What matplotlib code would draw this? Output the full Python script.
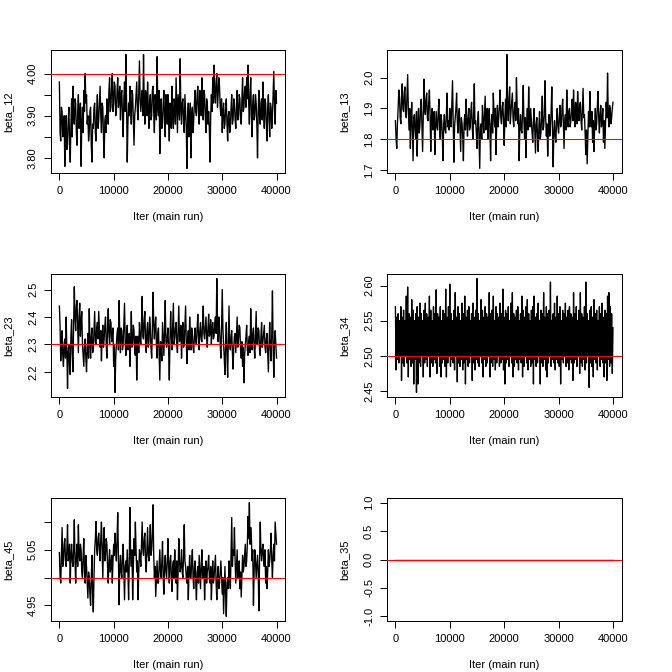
import numpy as np
import matplotlib
matplotlib.use("Agg")
import matplotlib.pyplot as plt

plt.rcParams['font.family'] = ['Liberation Sans', 'DejaVu Sans']

# iteration grid of the main run (thinned trace): swings read every 250 iters,
# plus the counter-swing read half-way between them
iters = np.arange(0, 40001, 250)

beta_12 = [
    3.98, 3.84, 3.91, 3.87, 3.78, 3.90, 3.83, 3.92, 3.79, 3.94,
    3.97, 3.88, 3.93, 3.83, 3.95, 3.89, 3.78, 3.92, 3.96, 4.00,
    3.95, 3.90, 3.86, 3.92, 3.79, 3.87, 3.93, 3.84, 3.95, 3.89,
    3.97, 3.86, 3.92, 3.80, 3.90, 3.94, 3.88, 3.99, 3.92, 4.00,
    3.93, 3.97, 3.91, 3.99, 3.94, 3.89, 3.96, 3.85, 3.98, 4.045,
    3.79, 3.93, 3.97, 3.88, 3.95, 3.83, 3.92, 3.98, 3.89, 4.03,
    3.91, 3.96, 4.045, 3.88, 3.94, 3.98, 3.87, 3.95, 3.90, 3.97,
    3.86, 3.93, 4.04, 3.90, 3.81, 3.94, 3.88, 3.96, 3.85, 3.92,
    3.95, 3.84, 3.91, 3.97, 3.87, 3.93, 3.99, 3.86, 3.92, 4.035,
    3.88, 3.94, 3.86, 3.91, 3.775, 3.93, 3.87, 3.80, 3.92, 3.89,
    3.96, 3.90, 3.97, 3.88, 3.94, 3.99, 3.89, 3.95, 3.86, 3.93,
    3.91, 3.79, 3.95, 3.99, 4.02, 3.93, 4.00, 3.95, 3.97, 3.90,
    3.86, 3.93, 3.88, 3.94, 3.84, 3.91, 3.87, 3.95, 3.89, 3.93,
    3.87, 3.96, 3.90, 3.94, 3.88, 3.99, 3.92, 3.97, 3.99, 4.02,
    3.88, 3.99, 3.85, 3.95, 3.90, 3.93, 3.80, 3.96, 3.88, 3.94,
    3.98, 3.87, 3.93, 3.84, 3.95, 3.85, 3.92, 3.90, 4.005, 3.88,
    3.93,
]
beta_12_mid = [
    3.86, 3.92, 3.85, 3.90, 3.86, 3.82, 3.89, 3.84, 3.88, 3.85,
    3.89, 3.94, 3.86, 3.91, 3.87, 3.93, 3.88, 3.86, 3.91, 3.93,
    3.88, 3.84, 3.91, 3.83, 3.88, 3.92, 3.86, 3.91, 3.87, 3.93,
    3.90, 3.93, 3.85, 3.89, 3.86, 3.90, 3.96, 3.91, 3.97, 3.91,
    3.98, 3.90, 3.96, 3.92, 3.97, 3.95, 3.90, 3.94, 3.91, 3.93,
    3.88, 3.90, 3.92, 3.96, 3.89, 3.90, 3.95, 3.91, 3.96, 3.94,
    3.94, 3.90, 3.93, 3.96, 3.90, 3.92, 3.93, 3.89, 3.96, 3.91,
    3.95, 3.89, 3.92, 3.96, 3.89, 3.87, 3.93, 3.89, 3.95, 3.88,
    3.89, 3.93, 3.87, 3.90, 3.94, 3.88, 3.92, 3.95, 3.89, 3.92,
    3.93, 3.89, 3.95, 3.87, 3.90, 3.85, 3.93, 3.90, 3.86, 3.93,
    3.91, 3.95, 3.91, 3.96, 3.90, 3.92, 3.96, 3.90, 3.94, 3.88,
    3.87, 3.90, 3.91, 3.93, 3.95, 3.98, 3.92, 3.99, 3.92, 3.94,
    3.91, 3.87, 3.92, 3.88, 3.90, 3.86, 3.92, 3.88, 3.94, 3.89,
    3.92, 3.89, 3.95, 3.89, 3.94, 3.91, 3.96, 3.92, 3.94, 3.93,
    3.95, 3.90, 3.93, 3.89, 3.95, 3.88, 3.91, 3.90, 3.93, 3.89,
    3.91, 3.94, 3.88, 3.92, 3.89, 3.93, 3.87, 3.95, 3.92, 3.96,
]

beta_13 = [
    1.86, 1.77, 1.90, 1.94, 1.85, 1.98, 1.89, 1.97, 1.87, 2.01,
    1.83, 1.77, 1.92, 1.73, 1.88, 1.80, 1.745, 1.90, 1.84, 1.93,
    1.76, 1.995, 1.88, 1.95, 1.86, 1.96, 1.76, 1.90, 1.85, 1.75,
    1.89, 1.83, 1.93, 1.80, 1.86, 1.73, 1.88, 1.82, 1.95, 1.86,
    1.90, 1.84, 1.99, 1.725, 1.87, 1.95, 1.82, 1.90, 1.76, 1.85,
    1.73, 1.88, 1.93, 1.81, 1.90, 1.84, 1.92, 1.80, 1.98, 1.86,
    1.77, 1.89, 1.705, 1.85, 1.91, 1.82, 1.94, 1.86, 1.80, 1.90,
    1.73, 1.88, 1.95, 1.84, 1.75, 1.91, 1.87, 1.96, 1.85, 1.92,
    1.78, 1.93, 2.075, 1.86, 1.97, 1.89, 1.95, 1.84, 1.92, 2.00,
    1.85, 1.73, 1.88, 1.82, 1.975, 1.80, 1.74, 1.90, 1.97, 1.84,
    1.86, 1.79, 1.90, 1.755, 1.87, 1.76, 1.89, 1.82, 1.94, 1.84,
    1.99, 1.81, 1.745, 1.88, 1.84, 1.97, 1.71, 1.86, 1.79, 1.90,
    1.82, 1.91, 1.85, 1.93, 1.77, 1.88, 1.96, 1.84, 1.90, 1.86,
    1.93, 1.96, 1.84, 1.90, 1.955, 1.86, 1.92, 1.83, 1.965, 1.88,
    1.75, 1.72, 1.89, 1.955, 1.84, 1.79, 1.76, 1.90, 1.85, 1.955,
    1.82, 1.91, 1.86, 1.79, 1.77, 1.92, 2.015, 1.84, 1.90, 1.87,
    1.92,
]
beta_13_mid = [
    1.80, 1.85, 1.96, 1.87, 1.93, 1.90, 1.95, 1.88, 1.94, 1.90,
    1.90, 1.86, 1.82, 1.87, 1.83, 1.89, 1.85, 1.82, 1.90, 1.84,
    1.88, 1.90, 1.93, 1.87, 1.92, 1.88, 1.87, 1.83, 1.89, 1.84,
    1.84, 1.89, 1.83, 1.88, 1.81, 1.85, 1.83, 1.88, 1.84, 1.83,
    1.85, 1.91, 1.86, 1.84, 1.90, 1.86, 1.88, 1.83, 1.87, 1.81,
    1.85, 1.83, 1.86, 1.87, 1.83, 1.89, 1.84, 1.88, 1.85, 1.82,
    1.86, 1.80, 1.84, 1.80, 1.86, 1.88, 1.83, 1.90, 1.86, 1.83,
    1.85, 1.82, 1.88, 1.90, 1.86, 1.84, 1.91, 1.87, 1.90, 1.86,
    1.87, 1.84, 1.90, 1.93, 1.85, 1.92, 1.87, 1.90, 1.86, 1.91,
    1.90, 1.84, 1.83, 1.89, 1.86, 1.87, 1.85, 1.83, 1.87, 1.90,
    1.82, 1.86, 1.83, 1.85, 1.81, 1.84, 1.80, 1.87, 1.83, 1.88,
    1.87, 1.85, 1.83, 1.81, 1.89, 1.84, 1.82, 1.81, 1.86, 1.84,
    1.87, 1.84, 1.90, 1.85, 1.86, 1.83, 1.88, 1.89, 1.84, 1.89,
    1.86, 1.88, 1.92, 1.85, 1.89, 1.91, 1.86, 1.90, 1.87, 1.82,
    1.83, 1.81, 1.84, 1.87, 1.89, 1.86, 1.84, 1.83, 1.91, 1.87,
    1.88, 1.84, 1.90, 1.86, 1.85, 1.87, 1.88, 1.91, 1.85, 1.90,
]

beta_23 = [
    2.44, 2.24, 2.35, 2.22, 2.32, 2.40, 2.14, 2.30, 2.19, 2.39,
    2.20, 2.51, 2.35, 2.46, 2.27, 2.45, 2.38, 2.30, 2.22, 2.32,
    2.20, 2.34, 2.43, 2.25, 2.36, 2.28, 2.42, 2.30, 2.38, 2.42,
    2.29, 2.24, 2.37, 2.32, 2.40, 2.25, 2.43, 2.30, 2.38, 2.33,
    2.22, 2.125, 2.30, 2.36, 2.46, 2.27, 2.35, 2.30, 2.45, 2.26,
    2.37, 2.29, 2.22, 2.42, 2.30, 2.35, 2.26, 2.17, 2.33, 2.38,
    2.30, 2.475, 2.32, 2.42, 2.27, 2.38, 2.31, 2.36, 2.25, 2.49,
    2.32, 2.40, 2.25, 2.36, 2.17, 2.30, 2.38, 2.26, 2.46, 2.29,
    2.36, 2.17, 2.42, 2.28, 2.45, 2.32, 2.38, 2.27, 2.44, 2.33,
    2.25, 2.38, 2.30, 2.44, 2.23, 2.35, 2.40, 2.28, 2.34, 2.27,
    2.36, 2.30, 2.41, 2.28, 2.38, 2.31, 2.44, 2.32, 2.40, 2.29,
    2.41, 2.34, 2.30, 2.38, 2.33, 2.40, 2.54, 2.31, 2.36, 2.25,
    2.50, 2.30, 2.19, 2.38, 2.18, 2.44, 2.28, 2.35, 2.21, 2.33,
    2.27, 2.40, 2.32, 2.36, 2.25, 2.22, 2.16, 2.30, 2.37, 2.26,
    2.33, 2.43, 2.28, 2.36, 2.25, 2.42, 2.30, 2.35, 2.26, 2.38,
    2.31, 2.37, 2.27, 2.34, 2.20, 2.38, 2.24, 2.495, 2.18, 2.35,
    2.25,
]
beta_23_mid = [
    2.37, 2.31, 2.26, 2.30, 2.25, 2.28, 2.27, 2.22, 2.33, 2.27,
    2.38, 2.40, 2.44, 2.36, 2.40, 2.33, 2.42, 2.26, 2.30, 2.25,
    2.29, 2.25, 2.31, 2.33, 2.27, 2.35, 2.31, 2.36, 2.32, 2.35,
    2.35, 2.33, 2.29, 2.37, 2.30, 2.36, 2.34, 2.39, 2.31, 2.36,
    2.30, 2.25, 2.34, 2.28, 2.33, 2.36, 2.28, 2.37, 2.31, 2.32,
    2.28, 2.34, 2.31, 2.29, 2.37, 2.27, 2.33, 2.29, 2.27, 2.32,
    2.37, 2.33, 2.39, 2.31, 2.35, 2.29, 2.40, 2.29, 2.35, 2.38,
    2.37, 2.30, 2.34, 2.27, 2.31, 2.24, 2.32, 2.35, 2.31, 2.33,
    2.28, 2.32, 2.33, 2.37, 2.30, 2.36, 2.30, 2.36, 2.31, 2.37,
    2.33, 2.29, 2.37, 2.31, 2.32, 2.28, 2.33, 2.36, 2.29, 2.33,
    2.31, 2.36, 2.33, 2.35, 2.32, 2.37, 2.34, 2.36, 2.33, 2.36,
    2.33, 2.39, 2.36, 2.32, 2.38, 2.34, 2.37, 2.40, 2.30, 2.36,
    2.36, 2.25, 2.31, 2.26, 2.32, 2.30, 2.33, 2.27, 2.29, 2.34,
    2.34, 2.29, 2.37, 2.28, 2.31, 2.29, 2.26, 2.33, 2.28, 2.31,
    2.27, 2.32, 2.34, 2.29, 2.33, 2.30, 2.36, 2.28, 2.33, 2.29,
    2.34, 2.29, 2.32, 2.27, 2.30, 2.29, 2.34, 2.30, 2.31, 2.30,
]

# beta_34 mixes very fast: upper and lower swings read separately
beta_34 = [
    2.57, 2.555, 2.56, 2.55, 2.57, 2.555, 2.565, 2.55, 2.585, 2.598,
    2.56, 2.555, 2.58, 2.565, 2.55, 2.56, 2.57, 2.555, 2.575, 2.56,
    2.55, 2.565, 2.575, 2.56, 2.555, 2.585, 2.565, 2.55, 2.57, 2.56,
    2.594, 2.56, 2.555, 2.57, 2.55, 2.565, 2.56, 2.595, 2.555, 2.57,
    2.602, 2.56, 2.55, 2.565, 2.59, 2.555, 2.57, 2.56, 2.55, 2.575,
    2.56, 2.585, 2.555, 2.565, 2.57, 2.55, 2.56, 2.575, 2.555, 2.565,
    2.61, 2.56, 2.55, 2.58, 2.565, 2.555, 2.57, 2.56, 2.555, 2.59,
    2.56, 2.565, 2.585, 2.55, 2.57, 2.56, 2.555, 2.575, 2.56, 2.595,
    2.555, 2.565, 2.56, 2.57, 2.55, 2.575, 2.59, 2.56, 2.555, 2.565,
    2.57, 2.55, 2.56, 2.585, 2.565, 2.555, 2.57, 2.58, 2.56, 2.55,
    2.565, 2.57, 2.585, 2.555, 2.56, 2.575, 2.55, 2.565, 2.56, 2.59,
    2.555, 2.57, 2.56, 2.565, 2.605, 2.55, 2.56, 2.575, 2.555, 2.585,
    2.56, 2.57, 2.55, 2.565, 2.56, 2.575, 2.555, 2.565, 2.57, 2.56,
    2.555, 2.59, 2.56, 2.57, 2.55, 2.565, 2.59, 2.56, 2.555, 2.57,
    2.605, 2.56, 2.55, 2.565, 2.57, 2.555, 2.58, 2.56, 2.565, 2.55,
    2.57, 2.56, 2.575, 2.555, 2.565, 2.56, 2.585, 2.59, 2.57, 2.56,
    2.54,
]
beta_34_mid = [
    2.48, 2.495, 2.49, 2.50, 2.465, 2.49, 2.485, 2.50, 2.49, 2.47,
    2.495, 2.485, 2.49, 2.46, 2.495, 2.448, 2.46, 2.49, 2.485, 2.50,
    2.47, 2.49, 2.495, 2.485, 2.50, 2.47, 2.49, 2.485, 2.495, 2.49,
    2.475, 2.50, 2.485, 2.47, 2.49, 2.495, 2.485, 2.47, 2.49, 2.50,
    2.485, 2.495, 2.49, 2.48, 2.50, 2.463, 2.49, 2.485, 2.495, 2.48,
    2.49, 2.46, 2.495, 2.485, 2.49, 2.50, 2.465, 2.49, 2.48, 2.495,
    2.49, 2.485, 2.50, 2.49, 2.47, 2.495, 2.485, 2.49, 2.50, 2.47,
    2.49, 2.485, 2.495, 2.48, 2.49, 2.50, 2.485, 2.49, 2.495, 2.48,
    2.46, 2.49, 2.495, 2.485, 2.50, 2.49, 2.47, 2.485, 2.495, 2.49,
    2.48, 2.495, 2.49, 2.47, 2.485, 2.50, 2.49, 2.48, 2.495, 2.485,
    2.49, 2.46, 2.495, 2.485, 2.49, 2.50, 2.46, 2.49, 2.485, 2.495,
    2.48, 2.47, 2.49, 2.50, 2.485, 2.495, 2.49, 2.48, 2.495, 2.49,
    2.485, 2.46, 2.495, 2.49, 2.50, 2.485, 2.49, 2.48, 2.495, 2.49,
    2.465, 2.49, 2.495, 2.485, 2.50, 2.475, 2.49, 2.485, 2.495, 2.48,
    2.49, 2.50, 2.455, 2.49, 2.485, 2.47, 2.495, 2.49, 2.48, 2.50,
    2.485, 2.495, 2.49, 2.47, 2.49, 2.465, 2.495, 2.485, 2.49, 2.475,
]

beta_45 = [
    5.045, 4.99, 5.09, 5.03, 5.07, 5.02, 5.095, 5.04, 4.99, 5.06,
    5.02, 5.104, 4.99, 5.06, 5.095, 5.03, 5.05, 5.00, 5.07, 4.99,
    5.02, 4.963, 5.00, 4.95, 5.04, 4.938, 5.05, 5.101, 5.04, 5.08,
    5.03, 5.10, 5.00, 5.09, 5.04, 5.06, 4.99, 5.05, 5.02, 4.99,
    5.06, 5.08, 5.03, 5.117, 4.951, 5.04, 5.00, 5.06, 4.96, 5.03,
    5.05, 4.96, 5.126, 5.02, 4.96, 5.07, 5.10, 5.01, 4.96, 5.05,
    5.02, 5.10, 5.04, 5.08, 5.01, 5.09, 5.03, 5.095, 5.05, 5.131,
    5.00, 4.966, 5.03, 4.99, 5.05, 5.00, 5.065, 4.97, 5.04, 5.00,
    5.07, 4.99, 5.04, 4.975, 5.03, 5.05, 4.99, 4.96, 5.07, 5.01,
    5.05, 5.00, 5.095, 5.02, 4.99, 4.96, 5.04, 5.00, 5.05, 4.98,
    5.03, 4.96, 5.02, 5.04, 4.98, 5.05, 5.00, 4.96, 5.03, 5.01,
    5.04, 4.99, 4.96, 5.03, 5.00, 5.04, 4.96, 5.02, 4.99, 5.03,
    4.97, 4.935, 5.02, 4.93, 5.00, 5.03, 4.98, 5.108, 5.05, 5.09,
    4.99, 5.05, 5.01, 4.98, 4.965, 5.04, 5.02, 5.06, 5.03, 5.11,
    5.135, 5.09, 5.03, 4.95, 5.05, 5.00, 5.04, 4.94, 5.10, 5.03,
    5.06, 5.02, 4.99, 4.98, 5.05, 5.03, 5.08, 5.00, 5.06, 5.10,
    5.06,
]
beta_45_mid = [
    5.00, 5.04, 5.02, 5.06, 5.03, 5.05, 5.03, 5.06, 5.04, 5.03,
    5.05, 5.03, 5.04, 5.02, 5.04, 5.06, 5.01, 5.04, 5.01, 5.04,
    4.99, 5.01, 4.97, 5.00, 4.97, 5.00, 5.07, 5.05, 5.07, 5.05,
    5.07, 5.05, 5.06, 5.03, 5.07, 5.02, 5.03, 5.01, 5.04, 5.03,
    5.04, 5.05, 5.07, 5.03, 5.02, 5.01, 5.04, 5.01, 5.02, 5.01,
    5.01, 5.03, 5.04, 5.05, 5.02, 5.04, 5.05, 5.03, 5.01, 5.04,
    5.06, 5.05, 5.07, 5.03, 5.05, 5.04, 5.06, 5.04, 5.08, 5.04,
    5.02, 5.00, 4.99, 5.02, 5.01, 5.03, 5.00, 5.02, 5.01, 5.03,
    5.02, 5.03, 5.00, 5.02, 5.00, 5.01, 5.03, 5.01, 5.03, 5.02,
    5.01, 5.04, 5.03, 5.00, 5.02, 5.01, 5.00, 5.03, 5.00, 5.02,
    4.99, 5.01, 4.99, 5.01, 5.02, 5.00, 5.02, 5.00, 4.99, 5.02,
    5.00, 5.02, 5.00, 4.99, 5.02, 4.99, 5.00, 4.98, 5.01, 5.00,
    5.00, 4.98, 4.97, 4.99, 4.98, 5.00, 5.04, 5.02, 5.04, 5.03,
    5.02, 5.00, 5.03, 5.01, 5.00, 5.01, 5.04, 5.02, 5.06, 5.07,
    5.06, 5.07, 5.05, 5.01, 5.03, 5.02, 5.01, 5.03, 5.05, 5.05,
    5.03, 5.05, 5.02, 5.01, 5.02, 5.05, 5.03, 5.04, 5.03, 5.08,
]

beta_35 = [0.0] * len(iters)

# true values (red reference lines)
true_vals = {"beta_12": 4.0, "beta_13": 1.8, "beta_23": 2.3,
             "beta_34": 2.5, "beta_45": 5.0, "beta_35": 0.0}

x_ticks = [0, 10000, 20000, 30000, 40000]
y_ticks = {
    "beta_12": ([3.80, 3.85, 3.90, 3.95, 4.00], ["3.80", "", "3.90", "", "4.00"]),
    "beta_13": ([1.7, 1.8, 1.9, 2.0], ["1.7", "1.8", "1.9", "2.0"]),
    "beta_23": ([2.2, 2.3, 2.4, 2.5], ["2.2", "2.3", "2.4", "2.5"]),
    "beta_34": ([2.45, 2.50, 2.55, 2.60], ["2.45", "2.50", "2.55", "2.60"]),
    "beta_45": ([4.95, 5.00, 5.05, 5.10], ["4.95", "", "5.05", ""]),
    "beta_35": ([-1.0, -0.5, 0.0, 0.5, 1.0], ["-1.0", "-0.5", "0.0", "0.5", "1.0"]),
}


def interleave(main, mid):
    """Merge the swings read at the 250-grid with the ones read half-way."""
    main = np.asarray(main, float)
    mid = np.asarray(mid, float)
    xs = np.empty(len(main) + len(mid))
    ys = np.empty_like(xs)
    xs[0::2] = iters
    xs[1::2] = iters[:-1] + 125
    ys[0::2] = main
    ys[1::2] = mid
    return xs, ys


series = [
    ("beta_12",) + interleave(beta_12, beta_12_mid),
    ("beta_13",) + interleave(beta_13, beta_13_mid),
    ("beta_23",) + interleave(beta_23, beta_23_mid),
    ("beta_34",) + interleave(beta_34, beta_34_mid),
    ("beta_45",) + interleave(beta_45, beta_45_mid),
    ("beta_35", iters, np.array(beta_35)),
]

W = H = 672
fig = plt.figure(figsize=(7, 7), dpi=96)
lefts = [50.7 / W, 386.7 / W]
widths = [234.5 / W, 235.0 / W]
bottoms = [1 - 173.0 / H, 1 - 397.0 / H, 1 - 621.0 / H]
height = 123.0 / H

FS = 8.3
for k, (name, xs, ys) in enumerate(series):
    r, c = divmod(k, 2)
    ax = fig.add_axes([lefts[c], bottoms[r], widths[c], height])
    ax.plot(xs, ys, color='black', lw=1.0, zorder=2)
    ax.axhline(true_vals[name], color='red', lw=0.8, zorder=3)
    lo, hi = ys.min(), ys.max()
    if hi == lo:
        lo, hi = lo - 1, hi + 1
    pad = 0.04 * (hi - lo)
    ax.set_ylim(lo - pad, hi + pad)
    xr = 40000 - 0
    ax.set_xlim(0 - 0.04 * xr, 40000 + 0.04 * xr)
    ax.set_xticks(x_ticks)
    ax.set_xticklabels([str(t) for t in x_ticks], fontsize=FS)
    yt, yl = y_ticks[name]
    ax.set_yticks(yt)
    ax.set_yticklabels(yl, fontsize=FS, rotation=90, va='center', ha='right')
    ax.tick_params(axis='both', direction='out', length=5.0, width=0.75,
                   color='black', labelcolor='black')
    ax.tick_params(axis='x', pad=5.0)
    ax.tick_params(axis='y', pad=4.5)
    for s in ax.spines.values():
        s.set_linewidth(0.75)
        s.set_color('black')
    ax.set_xlabel("Iter (main run)", fontsize=FS, labelpad=12)
    ax.set_ylabel(name, fontsize=FS, labelpad=11)

fig.savefig("out.png", dpi=96, facecolor='white')
